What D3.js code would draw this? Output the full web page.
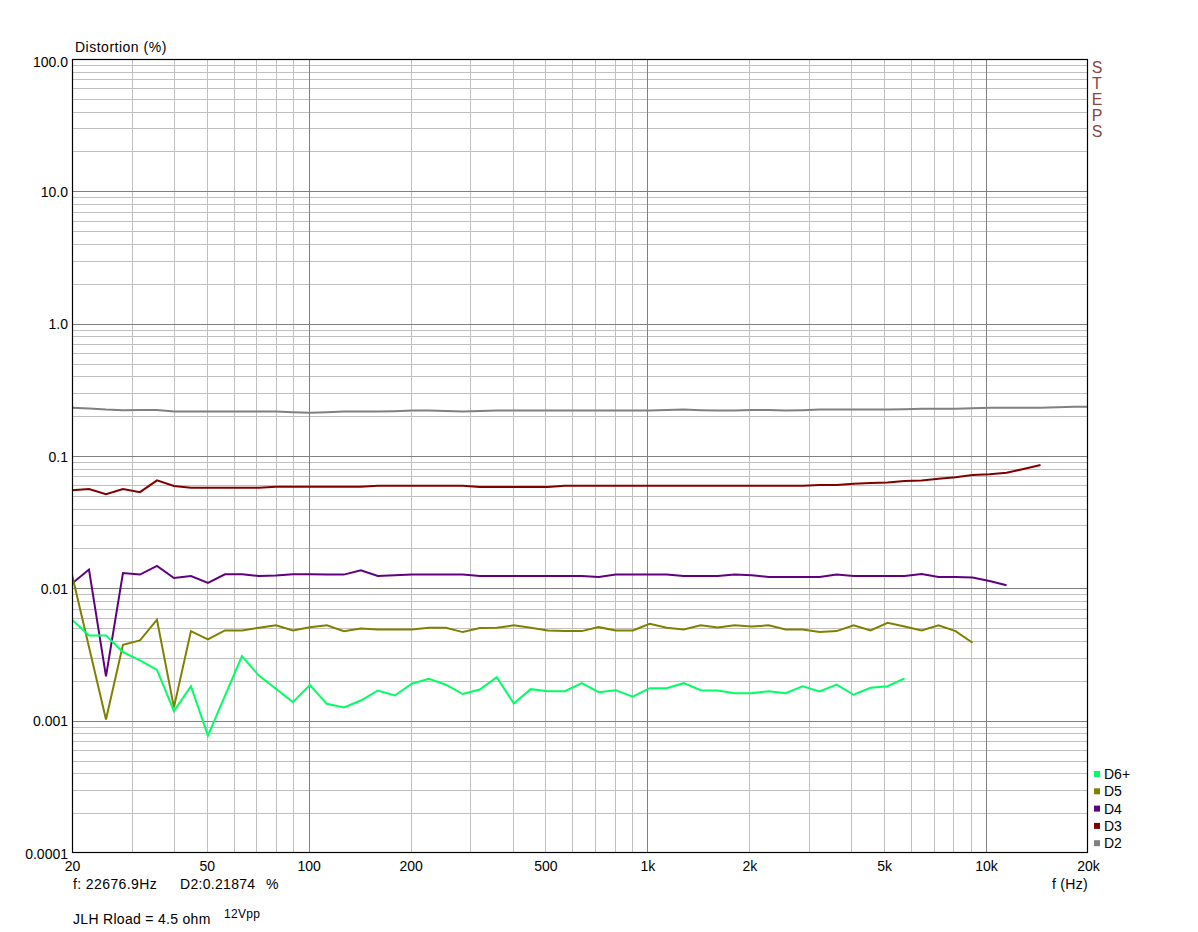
<!DOCTYPE html>
<html>
<head>
<meta charset="utf-8">
<script src="https://cdn.jsdelivr.net/npm/d3@7"></script>
<style>
html,body{margin:0;padding:0;background:#fff;}
svg{display:block;}
text{font-family:"Liberation Sans",Arial,sans-serif;}
</style>
</head>
<body>
<svg id="chart" width="1198" height="932"></svg>
<script>
// ---- data ----
const freqs = [20, 22.45, 25.2, 28.28, 31.75, 35.64, 40, 44.9, 50.4, 56.57,
  63.5, 71.27, 80, 89.8, 100.8, 113.1, 127, 142.5, 160, 179.6,
  201.6, 226.3, 254, 285.1, 320, 359.2, 403.2, 452.5, 508, 570.2,
  640, 718.4, 806.3, 905.1, 1016, 1140, 1280, 1437, 1613, 1810,
  2032, 2281, 2560, 2874, 3225, 3620, 4064, 4561, 5120, 5747,
  6451, 7241, 8127, 9123, 10240, 11494, 12902, 14482, 16255, 18246, 20480];

const d2 = [0.232, 0.229, 0.2244, 0.222, 0.223, 0.223, 0.2168, 0.2168, 0.2168, 0.2168,
  0.2168, 0.2168, 0.2168, 0.214, 0.212, 0.214, 0.2168, 0.2168, 0.2168, 0.218,
  0.2203, 0.2203, 0.219, 0.2168, 0.219, 0.2203, 0.2203, 0.2203, 0.2203, 0.2203,
  0.2203, 0.2203, 0.2203, 0.2203, 0.2203, 0.2225, 0.2244, 0.222, 0.2203, 0.2203,
  0.2225, 0.2225, 0.2203, 0.222, 0.2244, 0.2244, 0.2244, 0.2244, 0.2244, 0.226,
  0.228, 0.228, 0.228, 0.230, 0.232, 0.232, 0.232, 0.232, 0.234, 0.236, 0.236];

const d3v = [0.0552, 0.0562, 0.0515, 0.0562, 0.0533, 0.0654, 0.0593, 0.0575, 0.0575, 0.0575,
  0.0575, 0.0575, 0.0585, 0.0585, 0.0585, 0.0585, 0.0585, 0.0585, 0.0596, 0.0596,
  0.0596, 0.0596, 0.0596, 0.0596, 0.0582, 0.0582, 0.0582, 0.0582, 0.0582, 0.0596,
  0.0596, 0.0596, 0.0596, 0.0596, 0.0596, 0.0596, 0.0596, 0.0596, 0.0596, 0.0596,
  0.0596, 0.0596, 0.0596, 0.0596, 0.0605, 0.0605, 0.0618, 0.0625, 0.063, 0.0647,
  0.0653, 0.0673, 0.069, 0.0718, 0.0728, 0.0747, 0.0798, 0.0855];

const d4 = [0.01086, 0.01387, 0.00216, 0.01306, 0.0127, 0.01476, 0.01197, 0.01239, 0.01097, 0.01277,
  0.01277, 0.01239, 0.0125, 0.01277, 0.01277, 0.0127, 0.0127, 0.01368, 0.01239, 0.01255,
  0.0127, 0.0127, 0.0127, 0.0127, 0.01239, 0.01239, 0.01239, 0.01239, 0.01239, 0.01239,
  0.01239, 0.01219, 0.0127, 0.0127, 0.0127, 0.0127, 0.01239, 0.01239, 0.01239, 0.0127,
  0.01255, 0.01219, 0.01219, 0.01219, 0.01219, 0.0127, 0.01239, 0.01239, 0.01239, 0.01239,
  0.01283, 0.01219, 0.01219, 0.01205, 0.01136, 0.01054];

const d5 = [0.0127, 0.0036, 0.00102, 0.00374, 0.00404, 0.00579, 0.00126, 0.00475, 0.00411, 0.00481,
  0.00481, 0.00504, 0.00525, 0.00481, 0.00509, 0.00525, 0.00475, 0.00498, 0.00489, 0.00489,
  0.00489, 0.00504, 0.00504, 0.00467, 0.00501, 0.00504, 0.00525, 0.00504, 0.00481, 0.00475,
  0.00475, 0.00509, 0.00481, 0.00481, 0.0054, 0.00504, 0.00489, 0.00525, 0.00507, 0.00525,
  0.00515, 0.00525, 0.00489, 0.00489, 0.00467, 0.00475, 0.00525, 0.00481, 0.00549, 0.00515,
  0.00481, 0.00525, 0.00475, 0.00388];

const d6 = [0.00579, 0.00441, 0.00441, 0.0033, 0.00285, 0.00242, 0.00118, 0.00182, 0.00077, 0.00154,
  0.00307, 0.00219, 0.00174, 0.00138, 0.00186, 0.00134, 0.00126, 0.00142, 0.00169, 0.00155,
  0.0019, 0.00207, 0.00187, 0.00159, 0.00172, 0.00213, 0.00135, 0.00173, 0.00167, 0.00167,
  0.00192, 0.00164, 0.0017, 0.00152, 0.00176, 0.00176, 0.00192, 0.0017, 0.00169, 0.00161,
  0.00161, 0.00167, 0.00161, 0.00182, 0.00166, 0.00187, 0.00157, 0.00177, 0.00182, 0.00209];

const seriesNames = ["D2", "D3", "D4", "D5", "D6+"];
const seriesColors = ["#808080", "#800000", "#600080", "#808000", "#00ff64"];
const seriesData = [d2, d3v, d4, d5, d6];

const xTickValues = [20, 50, 100, 200, 500, 1000, 2000, 5000, 10000, 20000];
const xTickLabels = ["20", "50", "100", "200", "500", "1k", "2k", "5k", "10k", "20k"];
const yTickValues = [0.0001, 0.001, 0.01, 0.1, 1, 10, 100];
const yTickLabels = ["0.0001", "0.001", "0.01", "0.1", "1.0", "10.0", "100.0"];

// ---- layout ----
const L = 72, R = 1088, T = 59, B = 853;
const FS = 14;
const svg = d3.select("#chart");
const x = d3.scaleLog().domain([20, 20000]).range([L, R]);
const y = d3.scaleLog().domain([0.0001, 100]).range([B, T]);
const px = v => Math.round(v) + 0.5;

// grid
const grid = svg.append("g");
const vMinor = [], vMajor = [];
[10, 100, 1000, 10000].forEach(dec => {
  for (let m = 1; m <= 9; m++) {
    const f = dec * m;
    if (f <= 20 || f >= 20000) continue;
    (m === 1 ? vMajor : vMinor).push(f);
  }
});
const hMinor = [], hMajor = [];
[0.0001, 0.001, 0.01, 0.1, 1, 10].forEach(dec => {
  for (let m = 1; m <= 9; m++) {
    const v = dec * m;
    if (v <= 0.0001 * 1.0001 || v >= 100) continue;
    (m === 1 ? hMajor : hMinor).push(v);
  }
});
grid.selectAll(".vmin").data(vMinor).enter().append("line")
  .attr("x1", d => px(x(d))).attr("x2", d => px(x(d))).attr("y1", T).attr("y2", B)
  .attr("stroke", "#c0c0c0").attr("stroke-width", 1);
grid.selectAll(".hmin").data(hMinor).enter().append("line")
  .attr("y1", d => px(y(d))).attr("y2", d => px(y(d))).attr("x1", L).attr("x2", R)
  .attr("stroke", "#c0c0c0").attr("stroke-width", 1);
grid.selectAll(".vmaj").data(vMajor).enter().append("line")
  .attr("x1", d => px(x(d))).attr("x2", d => px(x(d))).attr("y1", T).attr("y2", B)
  .attr("stroke", "#808080").attr("stroke-width", 1);
grid.selectAll(".hmaj").data(hMajor).enter().append("line")
  .attr("y1", d => px(y(d))).attr("y2", d => px(y(d))).attr("x1", L).attr("x2", R)
  .attr("stroke", "#808080").attr("stroke-width", 1);

// clip
svg.append("clipPath").attr("id", "plotclip").append("rect")
  .attr("x", L).attr("y", T).attr("width", R - L).attr("height", B - T);

// series
const line = d3.line().x(d => x(d[0])).y(d => y(d[1]));
const lines = svg.append("g").attr("clip-path", "url(#plotclip)");
seriesData.forEach((vals, k) => {
  const pts = vals.map((v, i) => [freqs[i], v]);
  lines.append("path").datum(pts)
    .attr("d", line)
    .attr("fill", "none")
    .attr("stroke", seriesColors[k])
    .attr("stroke-width", 2)
    .attr("stroke-linejoin", "miter");
});

// frame
svg.append("rect").attr("x", L + 0.5).attr("y", T + 0.5)
  .attr("width", R - L - 1).attr("height", B - T - 1)
  .attr("fill", "none").attr("stroke", "#000").attr("stroke-width", 1.2);

// axes labels via d3 axes (no lines, just text)
const xAxis = d3.axisBottom(x).tickValues(xTickValues)
  .tickFormat((d, i) => xTickLabels[i]).tickSize(0).tickPadding(0);
const gx = svg.append("g").attr("transform", `translate(0,${B})`).call(xAxis);
gx.select(".domain").remove();
gx.selectAll("text").attr("dy", null).attr("y", 18)
  .attr("font-size", FS).attr("font-family", "Liberation Sans, Arial, sans-serif").attr("fill", "#000");

const yAxis = d3.axisLeft(y).tickValues(yTickValues)
  .tickFormat((d, i) => yTickLabels[i]).tickSize(0).tickPadding(4);
const gy = svg.append("g").attr("transform", `translate(${L},0)`).call(yAxis);
gy.select(".domain").remove();
gy.selectAll("text").attr("dy", "0.36em")
  .attr("font-size", FS).attr("font-family", "Liberation Sans, Arial, sans-serif").attr("fill", "#000");
gy.selectAll(".tick").filter(d => d === 100).select("text").attr("dy", "0.5em");

// titles
const txt = (xx, yy, s, size, anchor, ls) => svg.append("text").attr("x", xx).attr("y", yy)
  .attr("font-size", size).attr("text-anchor", anchor || "start")
  .attr("letter-spacing", ls || 0).text(s);
txt(75, 52, "Distortion (%)", FS, "start", 0.5);
txt(1088, 889, "f (Hz)", FS, "end", 0.3);
txt(73, 889, "f: 22676.9Hz", FS, "start", 0.4);
txt(180, 889, "D2:0.21874", FS, "start", 0.3);
txt(266, 889, "%", FS, "start");
txt(73, 924, "JLH Rload = 4.5 ohm", FS, "start", 0.3);
txt(224, 918, "12Vpp", 12, "start", 0.3);

// STEPS vertical
const steps = ["S", "T", "E", "P", "S"];
svg.selectAll(".step").data(steps).enter().append("text")
  .attr("x", 1097).attr("y", (d, i) => 73 + i * 16)
  .attr("text-anchor", "middle").attr("font-size", 16)
  .attr("fill", "#8c4444").text(d => d);

// legend (top to bottom: D6+, D5, D4, D3, D2)
const legendOrder = [4, 3, 2, 1, 0];
const lg = svg.append("g");
legendOrder.forEach((k, row) => {
  const cy = 774 + row * 17.3;
  lg.append("rect").attr("x", 1094).attr("y", cy - 3).attr("width", 6).attr("height", 6)
    .attr("fill", seriesColors[k]);
  lg.append("text").attr("x", 1104).attr("y", cy + 5).attr("font-size", FS).text(seriesNames[k]);
});
</script>
</body>
</html>
